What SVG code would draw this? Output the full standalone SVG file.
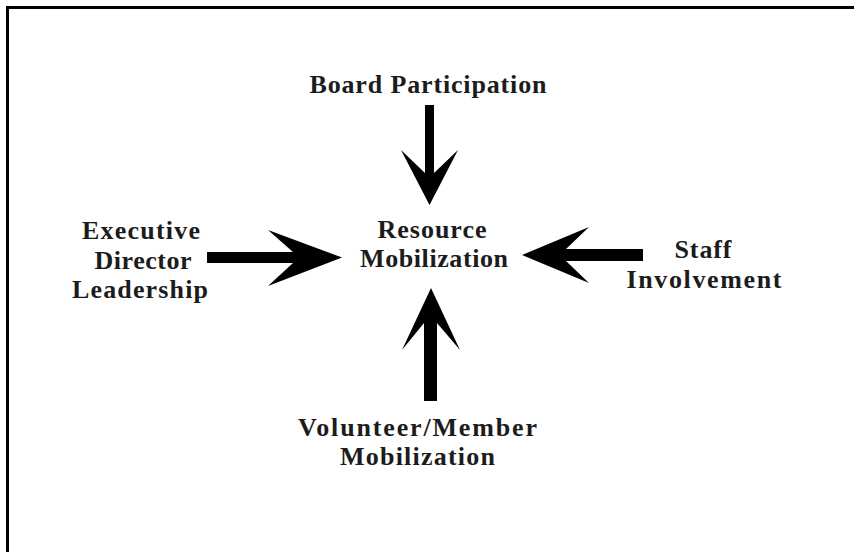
<svg xmlns="http://www.w3.org/2000/svg" width="854" height="552" viewBox="0 0 854 552">
<style>
.t{font-family:"Liberation Serif","Times New Roman",serif;font-weight:bold;font-size:26px;fill:#1c1c1c;text-anchor:middle}
.a{fill:#000}
</style>
<rect width="854" height="552" fill="#fff"/>
<path d="M7.5,552 V7.5 H854" fill="none" stroke="#000" stroke-width="3"/>
<g id="board"><text class="t" x="428" y="93" textLength="237" lengthAdjust="spacing">Board Participation</text></g>
<g id="executive"><text class="t" x="141" y="239" textLength="118" lengthAdjust="spacing">Executive</text><text class="t" x="143" y="269" textLength="97" lengthAdjust="spacing">Director</text><text class="t" x="140" y="298" textLength="136" lengthAdjust="spacing">Leadership</text></g>
<g id="resource"><text class="t" x="432" y="238" textLength="109" lengthAdjust="spacing">Resource</text><text class="t" x="434" y="267" textLength="148" lengthAdjust="spacing">Mobilization</text></g>
<g id="staff"><text class="t" x="703" y="258" textLength="57" lengthAdjust="spacing">Staff</text><text class="t" x="704" y="288" textLength="155" lengthAdjust="spacing">Involvement</text></g>
<g id="volunteer"><text class="t" x="417.5" y="436" textLength="239" lengthAdjust="spacing">Volunteer/Member</text><text class="t" x="417.5" y="465" textLength="155" lengthAdjust="spacing">Mobilization</text></g>
<g id="connectors">
<polygon class="a" points="425,105 434,105 434,173 458,150 429.5,205 401,150 425,173"/>
<polygon class="a" points="207,252 293,252 268,230 342,257.5 268,286 293,263 207,263"/>
<polygon class="a" points="643,249 566,249 589,227 522,255 589,283 566,261 643,261"/>
<polygon class="a" points="424,401 424,323 402,350 431,288 460,350 437,323 437,401"/>
</g>
</svg>
